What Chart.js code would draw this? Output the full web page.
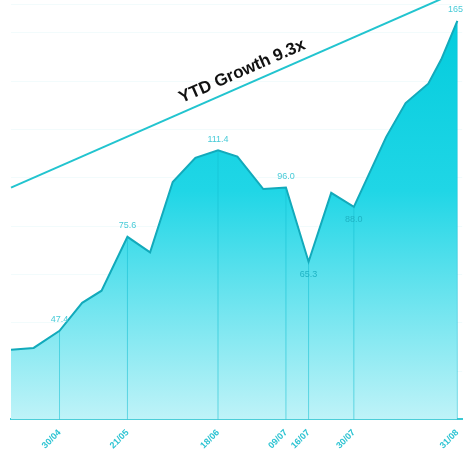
<!DOCTYPE html>
<html>
<head>
<meta charset="utf-8">
<script src="https://cdn.jsdelivr.net/npm/chart.js@4"></script>
<style>
  body { margin: 0; background: #fff; }
  #wrap { width: 465px; height: 452px; }
</style>
</head>
<body>
<div id="wrap"><canvas id="growthChart"></canvas></div>
<script>
// dates (dd/mm) and values
const dates = ['15/04', '22/04', '30/04', '07/05', '13/05', '21/05', '28/05', '04/06', '11/06', '18/06', '24/06',
  '02/07', '09/07', '16/07', '23/07', '30/07', '09/08', '15/08', '22/08', '26/08', '31/08'];
const values = [28.8, 29.6, 36.7, 48.3, 53.3, 75.6, 69.2, 98.3, 108.3, 111.4, 108.8,
  95.4, 96.0, 65.3, 93.8, 88.0, 117.0, 131.0, 139.0, 149.0, 165.0];

// labelled dates on the x axis and the callout printed at each
const tickDates = ['30/04', '21/05', '18/06', '09/07', '16/07', '30/07', '31/08'];
const callouts = ['47.4', '75.6', '111.4', '96.0', '65.3', '88.0', '165'];

// straight trend line
const trendDates = ['15/04', '31/08'];
const trendValues = [96, 177];
const trendText = 'YTD Growth 9.3x';

const monthStart = [0, 31, 59, 90, 120, 151, 181, 212, 243, 273, 304, 334];
function dayOf(s) {
    const p = s.split('/');
    return monthStart[parseInt(p[1]) - 1] + parseInt(p[0]);
}
function labelOf(day) {
    let m = 0;
    while (m < 11 && monthStart[m + 1] < day) m++;
    const d = day - monthStart[m];
    return String(d).padStart(2, '0') + '/' + String(m + 1).padStart(2, '0');
}

const teal = '#2cc3d2';

// drop lines + value callouts at the labelled dates
const calloutPlugin = {
    id: 'callouts',
    afterDatasetsDraw(chart) {
        const ctx = chart.ctx;
        const pts = chart.getDatasetMeta(0).data;
        const base = chart.scales.y.getPixelForValue(0);
        ctx.save();
        tickDates.forEach((td, k) => {
            const i = dates.indexOf(td);
            if (i < 0) return;
            const p = pts[i];
            ctx.strokeStyle = 'rgba(20,190,210,0.55)';
            ctx.lineWidth = 1;
            ctx.beginPath();
            ctx.moveTo(p.x, p.y + 1);
            ctx.lineTo(p.x, base);
            ctx.stroke();

            const prev = values[i - 1], next = values[i + 1];
            const isDip = prev !== undefined && next !== undefined && values[i] < prev && values[i] < next;
            ctx.font = '9px Arial';
            ctx.fillStyle = isDip ? '#1fb3c4' : '#48cbd8';
            ctx.textAlign = 'center';
            ctx.textBaseline = 'middle';
            const w = ctx.measureText(callouts[k]).width;
            const x = Math.min(p.x, chart.width - w / 2 - 2);
            ctx.fillText(callouts[k], x, isDip ? p.y + 13 : p.y - 11);
        });
        ctx.restore();
    }
};

// rotated text along the trend line
const trendLabelPlugin = {
    id: 'trendLabel',
    afterDatasetsDraw(chart) {
        const ctx = chart.ctx;
        const xs = chart.scales.x, ys = chart.scales.y;
        const x0 = xs.getPixelForValue(dayOf(trendDates[0])), y0 = ys.getPixelForValue(trendValues[0]);
        const x1 = xs.getPixelForValue(dayOf(trendDates[1])), y1 = ys.getPixelForValue(trendValues[1]);
        const ang = Math.atan2(y1 - y0, x1 - x0);
        const t = 0.53;
        const cx = x0 + (x1 - x0) * t, cy = y0 + (y1 - y0) * t;
        ctx.save();
        ctx.translate(cx, cy);
        ctx.rotate(ang);
        ctx.font = 'bold 17px Arial';
        ctx.fillStyle = '#111';
        ctx.textAlign = 'center';
        ctx.textBaseline = 'bottom';
        ctx.fillText(trendText, 0, -5);
        ctx.restore();
    }
};

new Chart(document.getElementById('growthChart'), {
    type: 'line',
    data: {
        datasets: [{
            data: dates.map((d, i) => ({ x: dayOf(d), y: values[i] })),
            borderColor: '#12aabb',
            borderWidth: 2,
            pointRadius: 0,
            tension: 0,
            fill: 'origin',
            backgroundColor: (c) => {
                const area = c.chart.chartArea;
                if (!area) return 'rgba(0,200,220,0.8)';
                const g = c.chart.ctx.createLinearGradient(0, area.top, 0, area.bottom);
                g.addColorStop(0, '#00cbdc');
                g.addColorStop(0.45, '#20d6e6');
                g.addColorStop(1, '#bff3f8');
                return g;
            }
        }, {
            data: trendDates.map((d, i) => ({ x: dayOf(d), y: trendValues[i] })),
            borderColor: '#22c4cf',
            borderWidth: 2,
            pointRadius: 0,
            fill: false,
            clip: false
        }]
    },
    options: {
        responsive: true,
        maintainAspectRatio: false,
        animation: false,
        layout: { padding: { left: 11, top: 4, right: -7, bottom: 1 } },
        plugins: { legend: { display: false }, tooltip: { enabled: false } },
        scales: {
            x: {
                type: 'linear',
                min: 105,
                max: 244.5,
                afterBuildTicks: (axis) => { axis.ticks = tickDates.map(d => ({ value: dayOf(d) })); },
                grid: { display: false },
                border: { display: true, color: '#3cc9d3', width: 2 },
                ticks: {
                    autoSkip: false,
                    minRotation: 45,
                    maxRotation: 45,
                    padding: 0,
                    color: teal,
                    font: { family: 'Arial', size: 9, weight: 'bold' },
                    callback: (v) => labelOf(v)
                }
            },
            y: {
                min: 0,
                max: 172,
                ticks: { display: false, stepSize: 20 },
                border: { display: false },
                grid: { color: 'rgba(0,170,190,0.05)', drawTicks: false }
            }
        }
    },
    plugins: [calloutPlugin, trendLabelPlugin]
});
</script>
</body>
</html>
